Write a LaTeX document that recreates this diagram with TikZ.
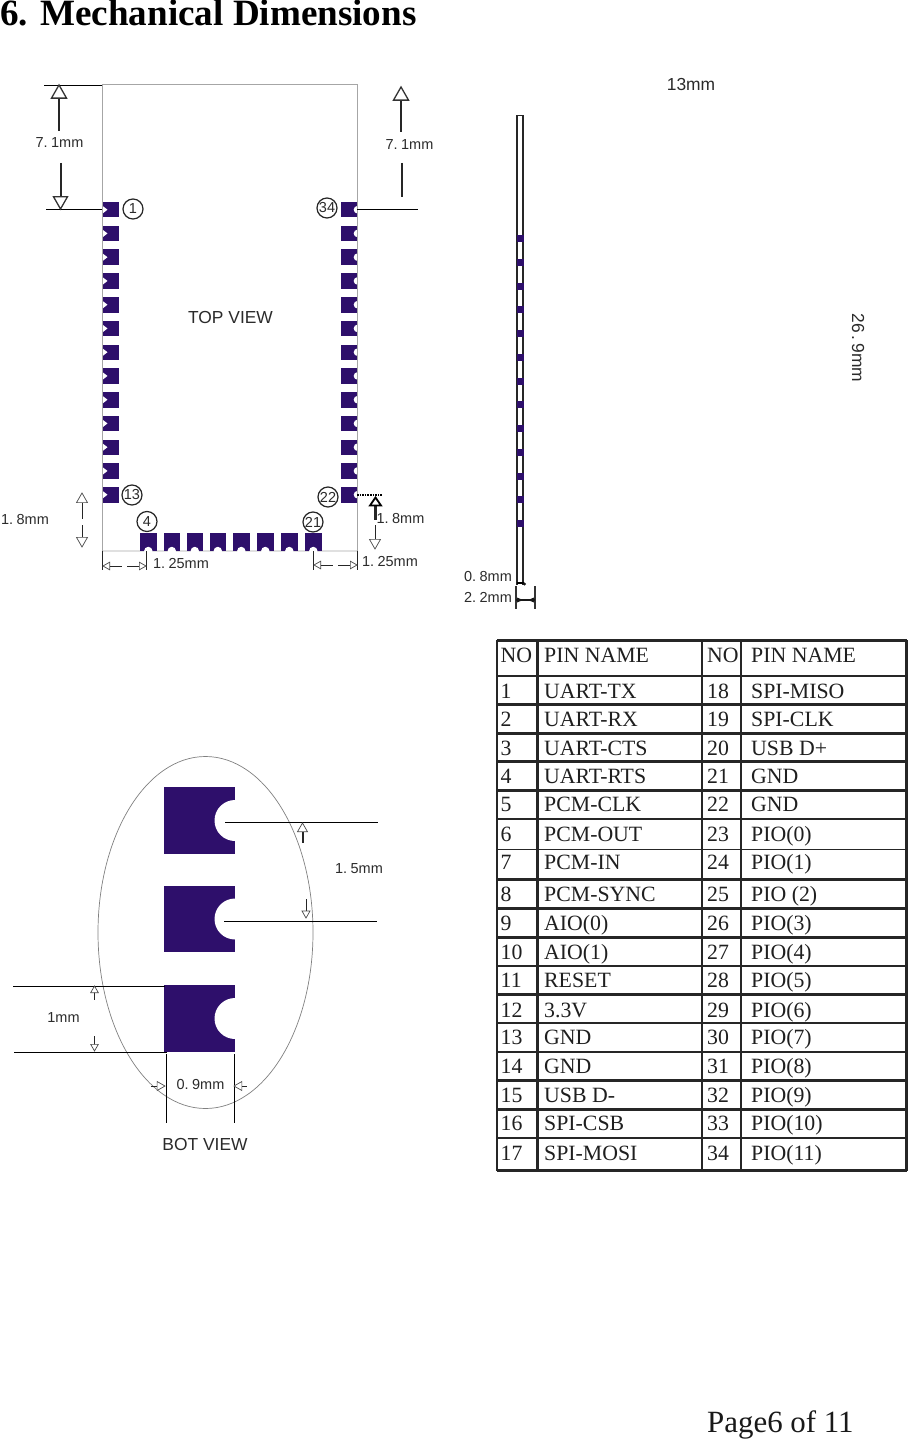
\documentclass[tikz,border=0pt]{standalone}
\usepackage{fontspec}
\setmainfont{Liberation Serif}
\setsansfont{Liberation Sans}
\definecolor{pad}{HTML}{2E0F6B}
\definecolor{ink}{HTML}{2B2B2B}
\newcommand{\dimfont}{\sffamily\fontsize{14.5}{14.5}\selectfont\spaceskip 0.14em\relax}
\newcommand{\sidefont}{\sffamily\fontsize{17.4}{17.4}\selectfont\spaceskip 0.12em\relax}
\newcommand{\triU}[3]{\draw[tri] (#1,#2) -- (#1-#3,#2+#3*1.75) -- (#1+#3,#2+#3*1.75) -- cycle;}
\newcommand{\triD}[3]{\draw[tri] (#1,#2) -- (#1-#3,#2-#3*1.75) -- (#1+#3,#2-#3*1.75) -- cycle;}
\newcommand{\triL}[3]{\draw[tri] (#1,#2) -- (#1+#3*1.75,#2-#3) -- (#1+#3*1.75,#2+#3) -- cycle;}
\newcommand{\triR}[3]{\draw[tri] (#1,#2) -- (#1-#3*1.75,#2-#3) -- (#1-#3*1.75,#2+#3) -- cycle;}
\tikzset{
  tri/.style={draw=black!70,line width=0.7pt,fill=white},
  bigtri/.style={tri/.append style={draw=black!80,line width=1.3pt}},
  outline/.style={draw=black!35,line width=0.9pt},
  dimline/.style={draw=black,line width=0.9pt},
  shaft/.style={draw=black!85,line width=0.9pt},
  heavy/.style={draw=black!85,line width=2pt},
  dimtext/.style={font=\dimfont,text=ink,inner sep=0pt},
  viewtext/.style={font=\sffamily\fontsize{17.4}{17.4}\selectfont,text=ink,inner sep=0pt},
  sidetext/.style={font=\sidefont,text=ink,inner sep=0pt},
  pinmark/.style={circle,draw=black!85,line width=1.2pt,minimum size=20pt,inner sep=0pt,font=\sffamily\fontsize{14.5}{14.5}\selectfont,text=ink},
  cell/.style={anchor=base west,inner sep=0pt,font=\fontsize{21.8}{21.8}\selectfont,text=black!88},
  grid/.style={draw=black!85,line width=2.4pt},
  gridthin/.style={draw=black!85,line width=1.1pt},
}
\begin{document}
\begin{tikzpicture}[x=1pt,y=-1pt]
\useasboundingbox (0,0) rectangle (908,1439);
\fill[white] (0,0) rectangle (908,1439);
% title
\node[anchor=base west,inner sep=0pt,font=\bfseries\fontsize{37.1}{37.1}\selectfont,text=black] (title) at (0,26) {6. Mechanical Dimensions};
\node[anchor=base west,inner sep=0pt,font=\fontsize{30.9}{30.9}\selectfont,text=black!90] (page) at (707,1432) {Page6 of 11};
% top view outline
\draw[outline] (102,551) -- (102,84.5) -- (357.5,84.5) -- (357.5,551);
\draw[draw=black!12,line width=2pt] (102,551) -- (357.5,551);
% side pads
\foreach \i in {0,...,12}{
  \pgfmathsetmacro{\ya}{202+\i*23.75}
  \fill[pad] (102,\ya) rectangle (119,\ya+15.5);
  \fill[white] (102,\ya+3.5) -- (107.5,\ya+7.7) -- (102,\ya+12) -- cycle;
  \fill[pad] (341,\ya) rectangle (357.5,\ya+15.5);
  \fill[white] (357.5,\ya+7.7) circle[radius=3.8pt];
}
\foreach \x in {140,163.5,186.5,209.5,233,257,281,305}{
  \fill[pad] (\x,533) rectangle (\x+16.5,551);
  \fill[white] (\x+8.3,551) circle[radius=4.2pt];
}
\draw[outline] (102,84.5) -- (102,551);
\draw[outline] (357.5,84.5) -- (357.5,551);
\node[viewtext] (topview) at (230.5,318) {TOP VIEW};
% pin marks
\node[pinmark] (m1) at (133,209) {1};
\node[pinmark] (m34) at (327,208) {34};
\node[pinmark] (m13) at (132,495) {13};
\node[pinmark] (m4) at (147,521.5) {4};
\node[pinmark] (m22) at (328,497) {22};
\node[pinmark] (m21) at (313,522) {21};
% 7.1 left
\draw[dimline] (44,85) -- (102,85);
\draw[dimline] (46,209.5) -- (102,209.5);
\draw[heavy] (58.5,131) -- (58.5,98);
\begin{scope}[bigtri]
\triU{59}{85}{7.5}
\end{scope}
\draw[heavy] (60.5,163) -- (60.5,197);
\begin{scope}[bigtri]
\triD{60.5}{209}{7}
\end{scope}
\node[dimtext] (d1) at (59.5,143) {7. 1mm};
% 7.1 right
\draw[heavy] (401,132) -- (401,99);
\begin{scope}[bigtri]
\triU{401}{87}{7.5}
\end{scope}
\draw[heavy,line width=1.5pt] (402,163) -- (402,197);
\draw[dimline] (357,209.5) -- (418,209.5);
\node[dimtext] (d2) at (409.5,145) {7. 1mm};
% 1.8 left
\draw[shaft] (82,503) -- (82,519);
\triU{82}{493}{5.5}
\draw[shaft] (82,525) -- (82,537);
\triD{82}{547}{5.5}
\node[dimtext] (d3) at (25,520) {1. 8mm};
% 1.25 left
\draw[shaft] (102,551) -- (102,570);
\draw[shaft] (146.5,551) -- (146.5,570);
\triL{103}{566}{3.8}
\draw[shaft] (110,566) -- (122,566);
\draw[shaft] (127,566) -- (139,566);
\triR{146}{566}{3.8}
\node[dimtext] (d4) at (181,564) {1. 25mm};
% 1.25 right
\draw[shaft] (313,551) -- (313,570);
\draw[shaft] (357.5,551) -- (357.5,570);
\triL{314}{565}{3.8}
\draw[shaft] (321,565) -- (333,565);
\draw[shaft] (338,565) -- (350,565);
\triR{357}{565}{3.8}
\node[dimtext] (d5) at (390,562) {1. 25mm};
% 1.8 right
\draw[draw=black,line width=1.6pt,densely dotted] (357,495) -- (383,495);
\draw[heavy,line width=3pt] (375,506) -- (375,520);
\draw[draw=black,line width=1.8pt,fill=white] (375.5,497.5) -- (370,505.5) -- (381,505.5) -- cycle;
\draw[shaft] (375,525) -- (375,539);
\triD{375}{549}{5.5}
\node[dimtext] (d6) at (400.5,519) {1. 8mm};
% side view
\node[viewtext] (w13) at (691,85) {13mm};
\node[sidetext,rotate=-90] (h269) at (858,348) {26 . 9mm};
\draw[draw=black!85,line width=1.2pt] (517,585) -- (517,115.5) -- (523,115.5) -- (523,585);
\foreach \i in {0,...,12}{
  \pgfmathsetmacro{\ya}{235+\i*23.75}
  \fill[pad] (516.5,\ya) rectangle (523.5,\ya+7);
}
\draw[draw=black,line width=1.6pt] (517,583) -- (524,583);
\fill[black!90] (524.5,584) circle[radius=1.6pt];
\node[dimtext] (d7) at (488,577) {0. 8mm};
\node[dimtext] (d8) at (488,597) {2. 2mm};
\draw[draw=black!80,line width=1.5pt] (516,586) -- (516,609);
\draw[draw=black!80,line width=1.5pt] (535,586) -- (535,609);
\draw[draw=black!90,line width=1.5pt] (516,600) -- (535,600);
\fill[black!90] (517,597.5) -- (523,600) -- (517,602.5) -- cycle;
\fill[black!90] (534,597.5) -- (528,600) -- (534,602.5) -- cycle;
% bottom view pads
\foreach \ya/\yb in {787/854,886/952,985/1052}{
  \fill[pad] (164,\ya) rectangle (235,\yb);
  \fill[white] (235,{(\ya+\yb)/2}) circle[radius=20.5pt];
  \fill[white] (235,\ya) rectangle (256,\yb);
}
\draw[draw=black!50,line width=0.7pt] (205.5,932.5) ellipse[x radius=107.5pt,y radius=176pt];
\draw[dimline] (225,822) -- (378,822);
\draw[dimline] (224,921) -- (377,921);
\draw[heavy] (302.5,832) -- (302.5,843);
\triU{302.5}{823}{5}
\draw[shaft] (306,899) -- (306,912);
\triD{306}{918}{4}
\node[dimtext] (d9) at (359,869) {1. 5mm};
\draw[dimline] (13,986) -- (165,986);
\draw[dimline] (14,1052.5) -- (167,1052.5);
\draw[shaft] (94.5,992) -- (94.5,1000);
\triU{94.5}{986}{3.8}
\draw[shaft] (94.5,1036) -- (94.5,1045);
\triD{94.5}{1051}{3.8}
\node[dimtext] (d10) at (63.5,1018) {1mm};
\draw[dimline] (166.5,1054) -- (166.5,1123);
\draw[dimline] (234.5,1054) -- (234.5,1123);
\draw[shaft] (151,1086) -- (158,1086);
\triR{165}{1086}{4.5}
\draw[shaft] (240,1086) -- (247,1086);
\triL{234}{1086}{4.5}
\node[dimtext] (d11) at (200.5,1084) {0. 9mm};
\node[viewtext] (botview) at (205,1144) {BOT VIEW};
% table
\foreach \y in {640.5,676,704.5,733.5,761.5,790.5,819,879.5,908.5,937.5,966,994.5,1023,1052,1080.5,1109.5,1138,1170.5}{
  \draw[grid] (497,\y) -- (906.5,\y);
}
\draw[gridthin] (497,849.5) -- (906.5,849.5);
\draw[draw=black!85,line width=1.6pt] (497,640) -- (497,1171);
\draw[grid] (537.5,640) -- (537.5,1171);
\draw[grid] (702,640) -- (702,1171);
\draw[grid] (741,640) -- (741,1171);
\draw[grid] (906.5,640) -- (906.5,1171);
\foreach \yb/\a/\b/\c/\d in {
 662/NO/PIN NAME/NO/PIN NAME,
 698/1/UART-TX/18/SPI-MISO,
 726/2/UART-RX/19/SPI-CLK,
 755/3/UART-CTS/20/USB D+,
 783/4/UART-RTS/21/GND,
 811/5/PCM-CLK/22/GND,
 841/6/PCM-OUT/23/PIO(0),
 869/7/PCM-IN/24/PIO(1),
 901/8/PCM-SYNC/25/PIO (2),
 930/9/AIO(0)/26/PIO(3),
 959/10/AIO(1)/27/PIO(4),
 987/11/RESET/28/PIO(5),
 1017/12/3.3V/29/PIO(6),
 1044/13/GND/30/PIO(7),
 1073/14/GND/31/PIO(8),
 1102/15/USB D-/32/PIO(9),
 1130/16/SPI-CSB/33/PIO(10),
 1160/17/SPI-MOSI/34/PIO(11)}{
  \node[cell] at (500.5,\yb) {\a};
  \node[cell] at (544,\yb) {\b};
  \node[cell] at (707,\yb) {\c};
  \node[cell] at (751,\yb) {\d};
}
\end{tikzpicture}
\end{document}
